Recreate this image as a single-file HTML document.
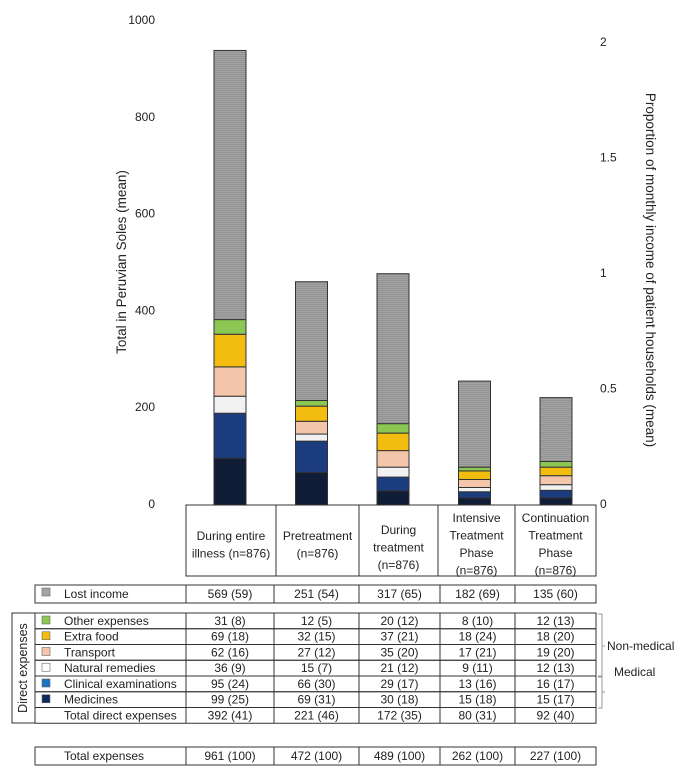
<!DOCTYPE html>
<html><head><meta charset="utf-8">
<style>
body{margin:0;background:#fff;font-family:"Liberation Sans",sans-serif;}
svg text{font-family:"Liberation Sans",sans-serif;fill:#222;}
</style></head>
<body>
<svg id="c" width="683" height="773" xmlns="http://www.w3.org/2000/svg">
<defs>
<pattern id="hatch" width="4" height="2" patternUnits="userSpaceOnUse">
<rect width="4" height="2" fill="#a3a3a3"/><rect width="4" height="1" fill="#939393"/>
</pattern>
</defs>
<g id="bars"></g>
<g id="axes"></g>
<text x="0" y="0" font-size="13.5" text-anchor="middle" transform="translate(126,262) rotate(-90)">Total in Peruvian Soles (mean)</text>
<text x="0" y="0" font-size="13.5" text-anchor="middle" transform="translate(646,270) rotate(90)">Proportion of monthly income  of patient households (mean)</text>
<g id="cats"></g>
<g id="table"></g>
</svg>
<script>
const categories=["During entire|illness (n=876)","Pretreatment|(n=876)","During|treatment|(n=876)","Intensive|Treatment|Phase|(n=876)","Continuation|Treatment|Phase|(n=876)"];
const seriesNames=["Medicines","Clinical examinations","Natural remedies","Transport","Extra food","Other expenses","Lost income"];
const seriesColors=["#111d36","#1b3c7f","#f1f1f1","#f3c6ab","#f3bd0f","#8cc753","url(#hatch)"];
const medicines=[99,69,30,15,15];
const clinical=[95,66,29,13,16];
const natural=[36,15,21,9,12];
const transport=[62,27,35,17,19];
const food=[69,32,37,18,18];
const other=[31,12,20,8,12];
const lost=[569,251,317,182,135];
const leftTicks=[0,200,400,600,800,1000];
const rightTicks=["0","0.5","1","1.5","2"];
const series=[medicines,clinical,natural,transport,food,other,lost];
const NS="http://www.w3.org/2000/svg";
function mk(t,a,p){const e=document.createElementNS(NS,t);for(const k in a)e.setAttribute(k,a[k]);p.appendChild(e);return e;}
const y=v=>505-v*0.473;
const yLab=v=>504-v*0.484;
const xC=i=>230+i*81.5;
const bw=32;
const gb=document.getElementById('bars');
categories.forEach((c,i)=>{let acc=0;series.forEach((s,j)=>{const v=s[i];const r=mk('rect',{x:xC(i)-bw/2,y:y(acc+v),width:bw,height:y(acc)-y(acc+v),fill:seriesColors[j],stroke:'#333','stroke-width':1},gb);


acc+=v;});});
const ga=document.getElementById('axes');
leftTicks.forEach(t=>{const e=mk('text',{x:155,y:yLab(t)+4,'font-size':12,'text-anchor':'end'},ga);e.textContent=t;

});
rightTicks.forEach((t,i)=>{const e=mk('text',{x:600,y:504-i*115.5+4,'font-size':12},ga);e.textContent=t;

});
const gc=document.getElementById('cats');
const edges=[186,276,359,438,515,596];
mk('rect',{x:186,y:505,width:410,height:71,fill:'none',stroke:'#333'},gc);
edges.slice(1,5).forEach(x=>mk('line',{x1:x,y1:505,x2:x,y2:576,stroke:'#333'},gc));
categories.forEach((c,i)=>{const lines=c.split('|');const cx=(edges[i]+edges[i+1])/2;const top=lines.length>=4?522:(lines.length==3?540-6:548-8);
lines.forEach((l,k)=>{const e=mk('text',{x:cx,y:top+k*17.5,'font-size':12,'text-anchor':'middle'},gc);e.textContent=l;

});});
// table
const gt=document.getElementById('table');
const cols=[186,274,359,440,515,596];
const rowsLost=[["Lost income","#a3a3a3",["569 (59)","251 (54)","317 (65)","182 (69)","135 (60)"]]];
const direct=[["Other expenses","#8cc753",["31 (8)","12 (5)","20 (12)","8 (10)","12 (13)"]],
["Extra food","#f3bd0f",["69 (18)","32 (15)","37 (21)","18 (24)","18 (20)"]],
["Transport","#f3c6ab",["62 (16)","27 (12)","35 (20)","17 (21)","19 (20)"]],
["Natural remedies","#fff",["36 (9)","15 (7)","21 (12)","9 (11)","12 (13)"]],
["Clinical examinations","#1a72c0",["95 (24)","66 (30)","29 (17)","13 (16)","16 (17)"]],
["Medicines","#0f2a5e",["99 (25)","69 (31)","30 (18)","15 (18)","15 (17)"]],
["Total direct expenses",null,["392 (41)","221 (46)","172 (35)","80 (31)","92 (40)"]]];
function row(r,top,h,left){mk('rect',{x:left,y:top,width:596-left,height:h,fill:'none',stroke:'#333'},gt);
cols.slice(0,5).forEach(x=>mk('line',{x1:x,y1:top,x2:x,y2:top+h,stroke:'#333'},gt));
if(r[1])mk('rect',{x:42,y:top+3,width:8,height:8,fill:r[1],stroke:'#666','stroke-width':0.6},gt);
const t=mk('text',{x:left==35?64:68,y:top+h/2+4,'font-size':12},gt);t.textContent=r[0];


r[2].forEach((v,i)=>{const e=mk('text',{x:(cols[i]+cols[i+1])/2,y:top+h/2+4,'font-size':12,'text-anchor':'middle'},gt);e.textContent=v;

});}
row(rowsLost[0],585,18,35);
mk('rect',{x:12,y:613,width:23,height:110,fill:'none',stroke:'#333'},gt);
direct.forEach((r,k)=>row(r,613+k*15.75,15.75,35));
const dl=mk('text',{x:0,y:0,'font-size':12.5,'text-anchor':'middle',transform:'translate(27,668) rotate(-90)'},gt);dl.textContent='Direct expenses';


row(["Total expenses",null,["961 (100)","472 (100)","489 (100)","262 (100)","227 (100)"]],747,18,35);
mk('path',{d:'M598 614 H602 V676 H598',fill:'none',stroke:'#999'},gt);
mk('path',{d:'M598 677 H602 V708 H598',fill:'none',stroke:'#999'},gt);
mk('line',{x1:602,y1:646,x2:605,y2:646,stroke:'#999'},gt);
mk('line',{x1:602,y1:692,x2:605,y2:692,stroke:'#999'},gt);
const nm=mk('text',{x:607,y:650,'font-size':12},gt);nm.textContent='Non-medical';


const md=mk('text',{x:614,y:676,'font-size':12},gt);md.textContent='Medical';


</script>
</body></html>
